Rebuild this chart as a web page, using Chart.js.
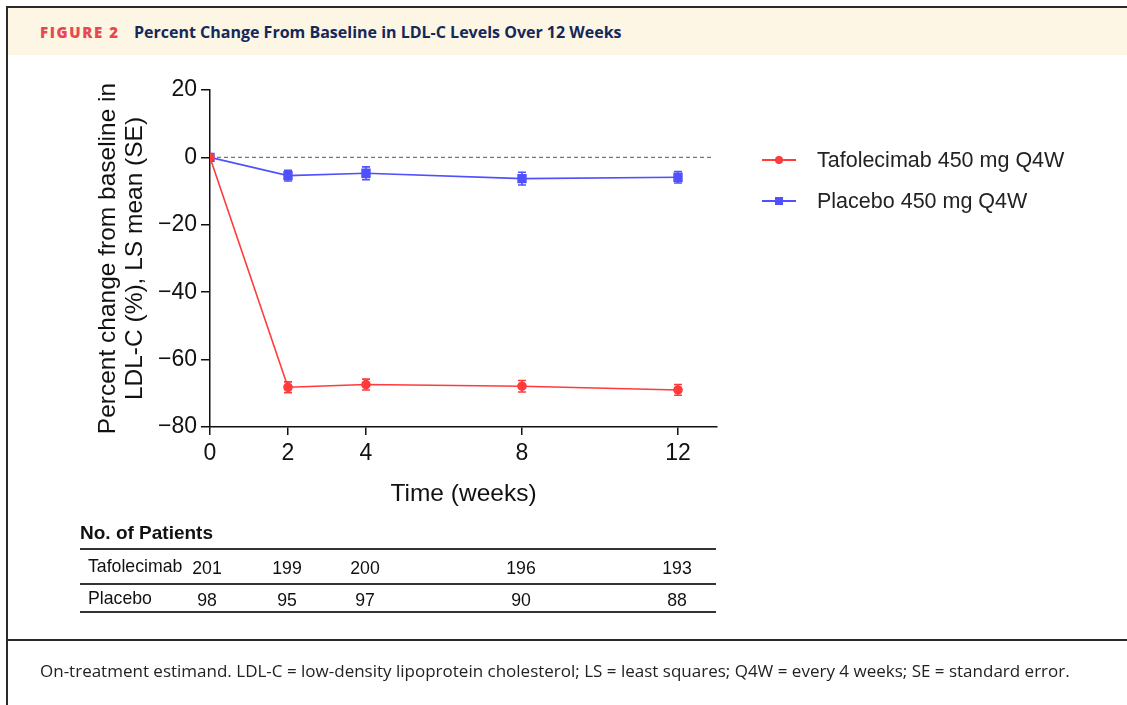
<!DOCTYPE html>
<html>
<head>
<meta charset="utf-8">
<script src="https://cdn.jsdelivr.net/npm/chart.js@4.4.1/dist/chart.umd.min.js"></script>
<style>
  html, body { margin: 0; padding: 0; background: #fff; }
  body { width: 1127px; height: 705px; position: relative; overflow: hidden; font-family: Arial, "Liberation Sans", sans-serif; }
  .frame { position: absolute; left: 6px; top: 6px; width: 1121px; height: 699px; border-left: 2px solid #2b2b2b; border-top: 2px solid #2b2b2b; box-sizing: border-box; }
  .head { position: absolute; left: 8px; top: 8px; width: 1119px; height: 47px; background: #fdf6e4; }
  .head .fig { position: absolute; left: 32px; top: 14px; font-family: "Open Sans", sans-serif; font-weight: 800; font-size: 15px; letter-spacing: 1.6px; color: #e8474f; }
  .head .ttl { position: absolute; left: 126px; top: 13px; font-family: "Open Sans", sans-serif; font-weight: 700; font-size: 16px; color: #14285a; }
  .sep { position: absolute; left: 8px; top: 639px; width: 1119px; height: 2px; background: #2b2b2b; }
  .note { position: absolute; left: 40px; top: 659px; font-family: "Open Sans", sans-serif; font-size: 17px; color: #222; white-space: nowrap; }
  #chart { position: absolute; left: 0; top: 0; }
  .legend { position: absolute; left: 762px; top: 146px; font-size: 21.5px; color: #222; }
  .legend div { height: 41px; line-height: 28px; position: relative; padding-left: 55px; }
  .legend i { position: absolute; left: 0; top: 13px; width: 34px; height: 2px; }
  .legend b { position: absolute; top: -3px; left: 13px; width: 8px; height: 8px; }
</style>
</head>
<body>
<div class="head"><span class="fig">FIGURE 2</span><span class="ttl">Percent Change From Baseline in LDL-C Levels Over 12 Weeks</span></div>
<div class="frame"></div>
<div class="sep"></div>
<canvas id="chart" width="1127" height="705"></canvas>
<div class="legend">
  <div><i style="background:#ff3b3b"><b style="background:#ff3b3b;border-radius:50%"></b></i>Tafolecimab 450 mg Q4W</div>
  <div><i style="background:#5050ff"><b style="background:#5050ff"></b></i>Placebo 450 mg Q4W</div>
</div>
<div class="note">On-treatment estimand. LDL-C = low-density lipoprotein cholesterol; LS = least squares; Q4W = every 4 weeks; SE = standard error.</div>
<script>
// semanas y valores (% cambio, media LS)
const weeks = [0, 2, 4, 8, 12];
const tafoMean = [0, -68.2, -67.4, -67.9, -69.0];
const tafoSE = [0, 1.6, 1.6, 1.7, 1.6];
const placeboMean = [0, -5.4, -4.7, -6.3, -5.9];
const placeboSE = [0, 1.6, 1.9, 1.9, 1.7];
const yTicks = [20, 0, -20, -40, -60, -80];
// número de pacientes
const tafoN = [201, 199, 200, 196, 193];
const placeboN = [98, 95, 97, 90, 88];

const red = '#ff3b3b';
const blue = '#5050ff';

function toPoints(ys) {
    return weeks.map((w, i) => ({ x: w, y: ys[i] }));
}

// Barras de error (SE)
const errorBars = {
    id: 'errorBars',
    afterDatasetsDraw(chart) {
        const ctx = chart.ctx;
        const x = chart.scales.x, y = chart.scales.y;
        const sets = [[tafoMean, tafoSE, red], [placeboMean, placeboSE, blue]];
        ctx.save();
        ctx.lineWidth = 1.6;
        sets.forEach(([m, se, col]) => {
            ctx.strokeStyle = col;
            weeks.forEach((w, i) => {
                if (!se[i]) return;
                const px = x.getPixelForValue(w);
                const top = y.getPixelForValue(m[i] + se[i]);
                const bot = y.getPixelForValue(m[i] - se[i]);
                ctx.beginPath();
                ctx.moveTo(px, top); ctx.lineTo(px, bot);
                ctx.moveTo(px - 4, top); ctx.lineTo(px + 4, top);
                ctx.moveTo(px - 4, bot); ctx.lineTo(px + 4, bot);
                ctx.stroke();
            });
        });
        ctx.restore();
    }
};

// Línea punteada en 0
const zeroLine = {
    id: 'zeroLine',
    beforeDatasetsDraw(chart) {
        const ctx = chart.ctx;
        const y0 = chart.scales.y.getPixelForValue(0);
        ctx.save();
        ctx.strokeStyle = '#777';
        ctx.lineWidth = 1.2;
        ctx.setLineDash([4, 3]);
        ctx.beginPath();
        ctx.moveTo(chart.chartArea.left, y0);
        ctx.lineTo(chart.chartArea.right - 4, y0);
        ctx.stroke();
        ctx.restore();
    }
};

// Tabla de pacientes debajo del eje x
const patientTable = {
    id: 'patientTable',
    afterDraw(chart) {
        const ctx = chart.ctx;
        const x = chart.scales.x;
        const left = 80, right = 716;
        ctx.save();
        ctx.fillStyle = '#111';
        ctx.font = 'bold 19px Arial';
        ctx.textBaseline = 'middle';
        ctx.textAlign = 'left';
        ctx.fillText('No. of Patients', left, 534);
        ctx.strokeStyle = '#333';
        ctx.lineWidth = 2;
        [549, 584, 612].forEach(ly => {
            ctx.beginPath(); ctx.moveTo(left, ly); ctx.lineTo(right, ly); ctx.stroke();
        });
        ctx.font = '17.7px Arial';
        ctx.fillText('Tafolecimab', 88, 567);
        ctx.fillText('Placebo', 88, 599);
        ctx.textAlign = 'center';
        weeks.forEach((w, i) => {
            const px = x.getPixelForValue(w) - (i === 0 ? 3 : 1);
            ctx.fillText(String(tafoN[i]), px, 569);
            ctx.fillText(String(placeboN[i]), px, 601);
        });
        ctx.restore();
    }
};

const ctx = document.getElementById('chart').getContext('2d');
const chart = new Chart(ctx, {
    type: 'line',
    data: {
        datasets: [{
            label: 'Tafolecimab 450 mg Q4W',
            data: toPoints(tafoMean),
            borderColor: red,
            backgroundColor: red,
            borderWidth: 1.6,
            pointStyle: 'circle',
            pointRadius: 4,
            tension: 0
        }, {
            label: 'Placebo 450 mg Q4W',
            data: toPoints(placeboMean),
            borderColor: blue,
            backgroundColor: blue,
            borderWidth: 1.6,
            pointStyle: 'rect',
            pointRadius: 5.5,
            tension: 0
        }]
    },
    options: {
        responsive: false,
        animation: false,
        layout: { padding: { left: 0, top: 90, right: 410, bottom: 188 } },
        plugins: {
            legend: { display: false },
            tooltip: { enabled: false }
        },
        scales: {
            x: {
                type: 'linear',
                min: 0,
                max: 13,
                afterBuildTicks: scale => { scale.ticks = weeks.map(v => ({ value: v })); },
                afterFit: scale => { scale.height = 90; },
                grid: { display: true, drawOnChartArea: false, drawTicks: true, tickLength: 8, color: '#111', lineWidth: 1.5 },
                border: { display: true, color: '#111', width: 1.5 },
                ticks: { color: '#111', padding: 5, font: { size: 23, family: 'Arial' }, maxRotation: 0 },
                title: { display: true, text: 'Time (weeks)', color: '#111', font: { size: 24.5, family: 'Arial' }, padding: { top: 0, bottom: 8 } }
            },
            y: {
                min: -80,
                max: 20,
                afterBuildTicks: scale => { scale.ticks = yTicks.map(v => ({ value: v })); },
                afterFit: scale => { scale.width = 210; },
                grid: { display: true, drawOnChartArea: false, drawTicks: true, tickLength: 9, color: '#111', lineWidth: 1.5 },
                border: { display: true, color: '#111', width: 1.5 },
                ticks: {
                    color: '#111',
                    padding: 4,
                    font: { size: 23, family: 'Arial' },
                    callback: v => (v < 0 ? '\u2212' + Math.abs(v) : String(v))
                },
                title: {
                    display: true,
                    text: ['Percent change from baseline in', 'LDL-C (%), LS mean (SE)'],
                    color: '#111',
                    font: { size: 24.5, family: 'Arial', lineHeight: 1.1 },
                    padding: { top: 95, bottom: 0 }
                }
            }
        }
    },
    plugins: [zeroLine, errorBars, patientTable]
});
</script>
</body>
</html>
